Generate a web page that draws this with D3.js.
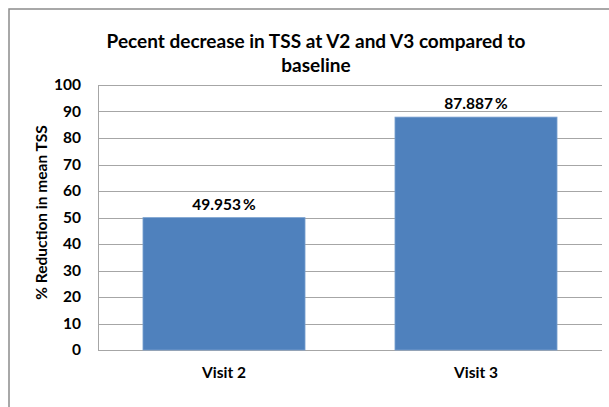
<!DOCTYPE html>
<html>
<head>
<meta charset="utf-8">
<script src="https://cdn.jsdelivr.net/npm/d3@7"></script>
<style>
  body { margin: 0; background: #fff; }
  svg { display: block; font-family: Lato, "Open Sans", sans-serif; }
</style>
</head>
<body>
<svg id="chart"></svg>
<script>
const categories = ["Visit 2", "Visit 3"];
const values = [49.953, 87.887];
const valueLabels = ["49.953\u2009%", "87.887\u2009%"];
const yTicks = [0, 10, 20, 30, 40, 50, 60, 70, 80, 90, 100];

const svgWidth = 609, svgHeight = 407;
const margin = { top: 85, right: 7, bottom: 57, left: 98 };
const w = svgWidth - margin.left - margin.right;
const h = svgHeight - margin.top - margin.bottom;

const svg = d3.select("#chart")
  .attr("width", svgWidth)
  .attr("height", svgHeight);

// outer chart frame (clipped at right and bottom like the source)
svg.append("rect")
  .attr("x", 9).attr("y", 9)
  .attr("width", 620).attr("height", 420)
  .attr("fill", "none")
  .attr("stroke", "#8c8c8c")
  .attr("stroke-width", 1.5);

const g = svg.append("g").attr("transform", `translate(${margin.left},${margin.top})`);

const x = d3.scaleBand()
  .domain(categories)
  .range([0, w])
  .paddingInner(0.357)
  .paddingOuter(0.357 / 2);

const y = d3.scaleLinear().domain([0, 100]).range([h, 0]);

// gridlines
g.append("g")
  .selectAll("line")
  .data(yTicks)
  .enter()
  .append("line")
  .attr("x1", 0).attr("x2", w)
  .attr("y1", (d) => Math.round(y(d)) + 0.5)
  .attr("y2", (d) => Math.round(y(d)) + 0.5)
  .attr("stroke", "#a6a6a6")
  .attr("stroke-width", 1);

// left axis line
g.append("line")
  .attr("x1", 0.5).attr("x2", 0.5)
  .attr("y1", 0).attr("y2", h)
  .attr("stroke", "#a6a6a6");

// y axis
const yAxis = g.append("g")
  .call(d3.axisLeft(y).tickValues(yTicks).tickSize(0).tickPadding(17));
yAxis.select(".domain").remove();
yAxis.selectAll("text")
  .attr("font-family", "Lato, sans-serif")
  .attr("font-size", 15.5)
  .attr("font-weight", "bold")
  .attr("fill", "#000");

// bars
g.selectAll("rect.bar")
  .data(values)
  .enter()
  .append("rect")
  .attr("class", "bar")
  .attr("x", (d, i) => x(categories[i]))
  .attr("y", (d) => y(d))
  .attr("width", x.bandwidth())
  .attr("height", (d) => h - y(d))
  .attr("fill", "#4f81bd")
  .attr("stroke", "#7aa0cf")
  .attr("stroke-width", 0.8);

// value labels
g.selectAll("text.val")
  .data(values)
  .enter()
  .append("text")
  .attr("class", "val")
  .attr("x", (d, i) => x(categories[i]) + x.bandwidth() / 2)
  .attr("y", (d) => y(d) - 8)
  .attr("text-anchor", "middle")
  .attr("font-size", 15.5)
  .attr("font-weight", "bold")
  .text((d, i) => valueLabels[i]);

// x axis labels
const xAxis = g.append("g")
  .attr("transform", `translate(0,${h})`)
  .call(d3.axisBottom(x).tickSize(0).tickPadding(17));
xAxis.select(".domain").remove();
xAxis.selectAll("text")
  .attr("font-family", "Lato, sans-serif")
  .attr("font-size", 15.5)
  .attr("font-weight", "bold")
  .attr("fill", "#000");

// y axis title
svg.append("text")
  .attr("transform", `translate(47,${margin.top + h / 2 - 5}) rotate(-90)`)
  .attr("text-anchor", "middle")
  .attr("font-size", 15.5)
  .attr("font-weight", "bold")
  .text("% Reduction in mean TSS");

// title
const title = svg.append("text")
  .attr("text-anchor", "middle")
  .attr("font-size", 19)
  .attr("font-weight", "bold");
title.append("tspan").attr("x", 316).attr("y", 48).text("Pecent decrease in TSS at V2 and V3 compared to");
title.append("tspan").attr("x", 316).attr("y", 72).text("baseline");
</script>
</body>
</html>
